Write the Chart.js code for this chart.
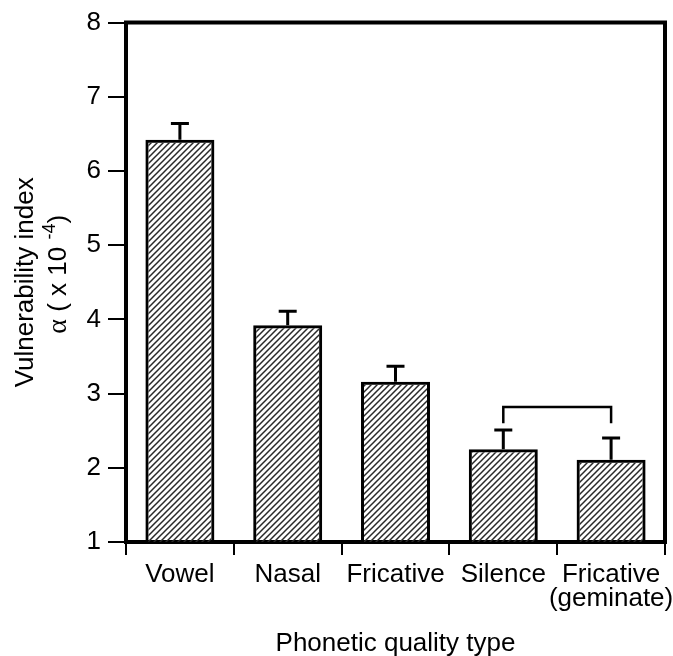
<!DOCTYPE html>
<html>
<head>
<meta charset="utf-8">
<script src="https://cdn.jsdelivr.net/npm/chart.js@4"></script>
<style>
    body { margin: 0; background: #fff; }
    canvas { display: block; }
</style>
</head>
<body>
<canvas id="vulnChart" width="673" height="656"></canvas>
<script>
// Values
const categories = ["Vowel", "Nasal", "Fricative", "Silence", ["Fricative", "(geminate)"]];
const meanIndex = [6.42, 3.92, 3.16, 2.25, 2.11];
const errorTop = [6.64, 4.11, 3.37, 2.51, 2.40];
const yTicks = [1, 2, 3, 4, 5, 6, 7, 8];
// bracket joining Silence and Fricative (geminate)
const bracketPair = [3, 4];
const bracketLevels = [2.82, 2.60]; // top line, foot of the legs

const canvas = document.getElementById("vulnChart");
const ctx = canvas.getContext("2d");
const FONT = "'Liberation Sans', Arial, sans-serif";

// diagonal hatching for the bars
const tile = document.createElement("canvas");
tile.width = 6;
tile.height = 6;
const tctx = tile.getContext("2d");
tctx.strokeStyle = "#2a2a2a";
tctx.lineWidth = 1.5;
tctx.beginPath();
tctx.moveTo(0, 6); tctx.lineTo(6, 0);
tctx.moveTo(-1, 1); tctx.lineTo(1, -1);
tctx.moveTo(5, 7); tctx.lineTo(7, 5);
tctx.stroke();
const hatch = ctx.createPattern(tile, "repeat");

// error bars, bracket, frame and the y title
const extras = {
    id: "extras",
    afterDatasetsDraw(chart) {
        const c = chart.ctx;
        const y = chart.scales.y;
        const bars = chart.getDatasetMeta(0).data;
        c.save();
        c.strokeStyle = "#000";
        c.lineWidth = 3;
        bars.forEach((bar, i) => {
            const top = y.getPixelForValue(errorTop[i]);
            const base = y.getPixelForValue(meanIndex[i]);
            c.beginPath();
            c.moveTo(bar.x, base);
            c.lineTo(bar.x, top);
            c.moveTo(bar.x - 9, top);
            c.lineTo(bar.x + 9, top);
            c.stroke();
        });
        const xa = bars[bracketPair[0]].x;
        const xb = bars[bracketPair[1]].x;
        const yt = y.getPixelForValue(bracketLevels[0]);
        const yf = y.getPixelForValue(bracketLevels[1]);
        c.lineWidth = 2.5;
        c.beginPath();
        c.moveTo(xa, yf);
        c.lineTo(xa, yt);
        c.lineTo(xb, yt);
        c.lineTo(xb, yf);
        c.stroke();
        c.restore();
    },
    afterDraw(chart) {
        const c = chart.ctx;
        const area = chart.chartArea;
        c.save();
        c.strokeStyle = "#000";
        c.lineWidth = 4;
        c.beginPath();
        c.moveTo(area.left - 2, area.top);
        c.lineTo(area.right, area.top);
        c.lineTo(area.right, area.bottom + 2);
        c.stroke();

        // rotated two-line y title with superscript
        const cy = (area.top + area.bottom) / 2;
        c.translate(0, cy);
        c.rotate(-Math.PI / 2);
        c.fillStyle = "#000";
        c.textBaseline = "alphabetic";
        c.textAlign = "center";
        c.font = "26px " + FONT;
        c.fillText("Vulnerability index", 0, 33);

        const parts = [
            { t: "\u03B1", f: "28px 'Liberation Serif', 'DejaVu Serif', serif", dy: 0 },
            { t: " ( x 10 ", f: "26px " + FONT, dy: 0 },
            { t: "-4", f: "18px " + FONT, dy: -11 },
            { t: ")", f: "26px " + FONT, dy: 0 }
        ];
        let total = 0;
        parts.forEach(p => { c.font = p.f; p.w = c.measureText(p.t).width; total += p.w; });
        let x = -total / 2 + 8;
        c.textAlign = "left";
        parts.forEach(p => {
            c.font = p.f;
            c.fillText(p.t, x, 66 + p.dy);
            x += p.w;
        });
        c.restore();
    }
};

new Chart(ctx, {
    type: "bar",
    data: {
        labels: categories,
        datasets: [{
            label: "Vulnerability index",
            data: meanIndex,
            backgroundColor: hatch,
            borderColor: "#000",
            borderWidth: 3,
            barPercentage: 0.64,
            categoryPercentage: 1.0
        }]
    },
    options: {
        responsive: false,
        animation: false,
        layout: { padding: { top: 22, right: 8, left: 0, bottom: 0 } },
        plugins: {
            legend: { display: false },
            tooltip: { enabled: false },
            title: { display: false }
        },
        scales: {
            x: {
                offset: true,
                grid: {
                    offset: true,
                    drawOnChartArea: false,
                    drawTicks: true,
                    tickLength: 13,
                    color: "#000",
                    lineWidth: 2
                },
                border: { display: true, color: "#000", width: 4 },
                ticks: {
                    color: "#000",
                    font: { family: FONT, size: 26, lineHeight: 0.92 },
                    padding: 8,
                    maxRotation: 0,
                    autoSkip: false
                },
                title: {
                    display: true,
                    text: "Phonetic quality type",
                    color: "#000",
                    font: { family: FONT, size: 26 },
                    padding: { top: 10, bottom: -3 }
                },
                afterFit(scale) {
                    scale.height = 114;
                    scale.paddingLeft = 0;
                    scale.paddingRight = 0;
                }
            },
            y: {
                min: 1,
                max: 8,
                afterBuildTicks(scale) { scale.ticks = yTicks.map(v => ({ value: v })); },
                grid: {
                    drawOnChartArea: false,
                    drawTicks: true,
                    tickLength: 18,
                    color: "#000",
                    lineWidth: 2
                },
                border: { display: true, color: "#000", width: 4 },
                ticks: {
                    color: "#000",
                    font: { family: FONT, size: 26 },
                    padding: 7
                },
                afterFit(scale) { scale.width = 126; }
            }
        }
    },
    plugins: [extras]
});
</script>
</body>
</html>
